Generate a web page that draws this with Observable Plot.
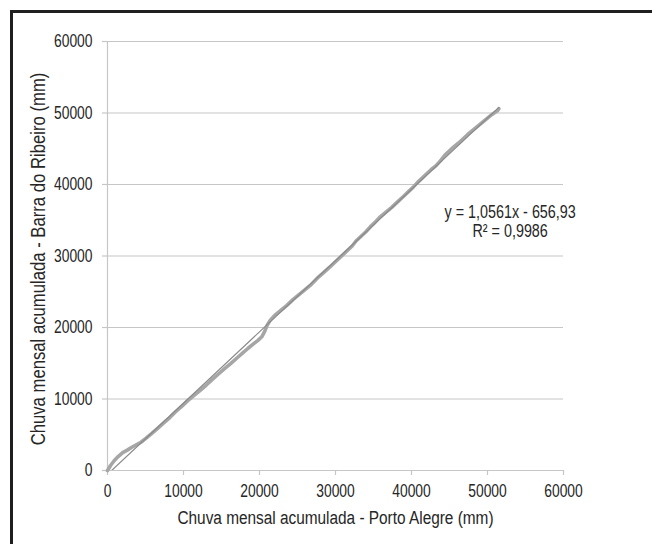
<!DOCTYPE html>
<html><head><meta charset="utf-8">
<script src="https://cdn.jsdelivr.net/npm/d3@7"></script>
<script src="https://cdn.jsdelivr.net/npm/@observablehq/plot@0.6"></script>
<style>
body{margin:0;background:#fff;}
#wrap{position:relative;width:652px;height:544px;overflow:hidden;background:#fff}
#frame{position:absolute;left:10px;top:10px;width:700px;height:600px;border-left:3px solid #1f1f1f;border-top:3px solid #1f1f1f;pointer-events:none}
</style></head>
<body><div id="wrap"><div id="frame"></div></div>
<script>
// Cumulative monthly rain (mm): Porto Alegre (x) vs Barra do Ribeiro (y)
const portoAlegre = [0,400,900,1400,2000,2600,3200,3800,4400,5000,5800,6600,7400,8200,9000,9800,10600,11400,12200,13000,13800,14600,15400,16200,17000,17800,18500,19200,19800,20300,20700,21000,21400,22000,22800,23600,24400,25200,26000,26800,27600,28400,29200,30000,30800,31500,32200,32700,33300,34000,34600,35200,35800,36600,37400,38200,39000,39600,40200,40800,41400,42000,42600,43200,43800,44400,45000,45600,46200,46800,47400,48200,49000,49800,50600,51300,51500];
const barraRibeiro = [0,700,1400,1950,2500,2850,3250,3600,3950,4450,5150,5900,6650,7400,8250,9000,9800,10500,11200,11950,12750,13500,14250,14950,15700,16450,17100,17700,18200,18700,19500,20300,21000,21700,22400,23100,23900,24600,25300,26000,26900,27650,28400,29200,30000,30700,31400,32100,32700,33400,34100,34700,35400,36100,36800,37600,38400,39000,39600,40300,40900,41500,42100,42600,43300,44100,44700,45300,45800,46400,47000,47700,48400,49100,49800,50300,50600];
const ticks = [0,10000,20000,30000,40000,50000,60000];
const xTitle = "Chuva mensal acumulada - Porto Alegre (mm)";
const yTitle = "Chuva mensal acumulada - Barra do Ribeiro (mm)";
const equationLines = ["y = 1,0561x - 656,93", "R² = 0,9986"];

const data = portoAlegre.map((x, i) => ({x, y: barraRibeiro[i]}));

const fam = "'Liberation Sans', Arial, sans-serif";
const grid = "#c6c6c6", ink = "#262626";

const chart = Plot.plot({
  width: 652, height: 544,
  marginLeft: 107, marginRight: 89, marginTop: 41, marginBottom: 74,
  style: {fontFamily: fam, fontSize: "18px", color: ink, background: "transparent"},
  x: {domain: [0, 60000], ticks, tickFormat: d3.format("d")},
  y: {domain: [0, 60000], ticks, tickFormat: d3.format("d")},
  marks: [
    Plot.gridY(ticks, {stroke: grid, strokeOpacity: 1, strokeWidth: 1.2}),
    Plot.ruleX([0], {stroke: grid, strokeWidth: 1.2}),
    Plot.ruleY([0], {stroke: grid, strokeWidth: 1.2}),
    Plot.axisX({ticks, tickFormat: d3.format("d"), tickSize: 5, tickPadding: 9, stroke: grid, strokeWidth: 1.2, label: null, fill: ink}),
    Plot.axisY({ticks, tickFormat: d3.format("d"), tickSize: 5, tickPadding: 10, stroke: grid, strokeWidth: 1.2, label: null, fill: ink}),
    Plot.line(data, {x: "x", y: "y", stroke: "#a6a6a6", strokeWidth: 3.6, strokeLinecap: "round", strokeLinejoin: "round"}),
    Plot.linearRegressionY(data, {x: "x", y: "y", ci: 0, stroke: "#8a8a8a", strokeWidth: 1.2, clip: true}),
    Plot.text([xTitle], {frameAnchor: "bottom", text: d => d, lineAnchor: "top", textAnchor: "middle", dy: 40, fontSize: 19, fill: ink}),
    Plot.text([yTitle], {frameAnchor: "left", text: d => d, rotate: -90, lineAnchor: "top", textAnchor: "middle", dx: -77, dy: 3, fontSize: 20, fill: ink}),
    Plot.text([equationLines.join("\n")], {x: () => 52980, y: () => 34900, text: d => d, lineHeight: 1.1, fontSize: 17.5, fill: ink})
  ]
});
// mimic the condensed face of the original by compressing glyphs horizontally
chart.querySelectorAll("text").forEach(t => {
  const s = t.textContent;
  const sx = s === xTitle ? 0.81 : s === yTitle ? 0.835 : /^\d+$/.test(s) ? 0.77 : 0.82;
  const tr = t.getAttribute("transform") || "";
  t.setAttribute("transform", (tr + ` scale(${sx},1)`).trim());
});
document.getElementById("wrap").prepend(chart);
chart.style.position = "absolute"; chart.style.left = "0"; chart.style.top = "0";
</script>
</body></html>
